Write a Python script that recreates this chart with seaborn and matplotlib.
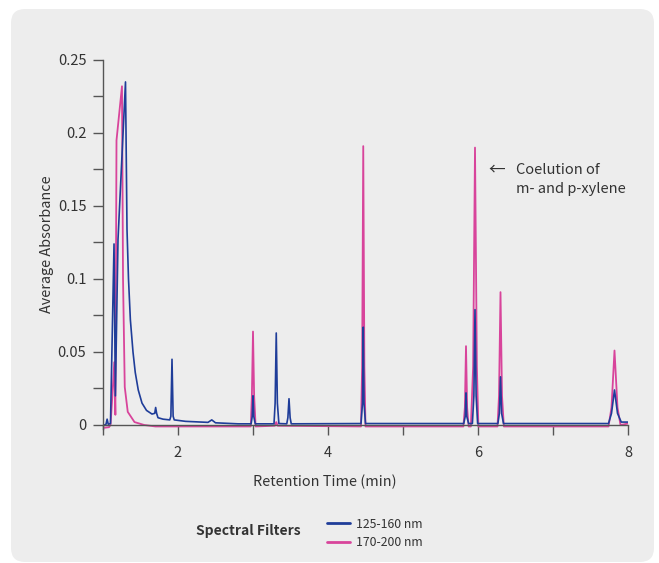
import numpy as np
import pandas as pd
import seaborn as sns
import matplotlib.pyplot as plt
from matplotlib.patches import FancyBboxPatch
from matplotlib.lines import Line2D
from matplotlib.transforms import IdentityTransform
from matplotlib.ticker import MultipleLocator, FuncFormatter

# 125-160 nm trace (retention time in min, average absorbance)
blue_time = [1.00, 1.04, 1.055, 1.07, 1.10, 1.147, 1.165, 1.20, 1.30, 1.32, 1.34,
             1.365, 1.40, 1.43, 1.47, 1.52, 1.58, 1.653, 1.69, 1.702, 1.715, 1.733,
             1.80, 1.89, 1.905, 1.92, 1.935, 1.95, 2.10, 2.40, 2.45, 2.50, 2.80,
             2.975, 2.99, 3.00, 3.01, 3.03, 3.28, 3.295, 3.31, 3.325, 3.345, 3.45,
             3.465, 3.48, 3.495, 3.51, 4.44, 4.46, 4.47, 4.48, 4.50, 5.81, 5.83,
             5.84, 5.85, 5.875, 5.925, 5.945, 5.96, 5.975, 5.995, 6.265, 6.285,
             6.30, 6.315, 6.34, 7.74, 7.78, 7.82, 7.86, 7.91, 8.00]
blue_abs = [-0.0005, 0.0005, 0.004, 0.0005, 0.001, 0.124, 0.02, 0.127, 0.235, 0.134, 0.100,
            0.072, 0.050, 0.036, 0.024, 0.015, 0.010, 0.0075, 0.008, 0.012, 0.008, 0.005,
            0.004, 0.0035, 0.006, 0.045, 0.006, 0.0035, 0.0025, 0.0018, 0.0035, 0.0015, 0.0008,
            0.0008, 0.006, 0.020, 0.006, 0.0008, 0.0008, 0.015, 0.063, 0.015, 0.001, 0.0008,
            0.005, 0.018, 0.005, 0.0008, 0.001, 0.015, 0.067, 0.015, 0.001, 0.001, 0.006,
            0.022, 0.006, 0.001, 0.001, 0.020, 0.079, 0.020, 0.001, 0.001, 0.008,
            0.033, 0.008, 0.001, 0.001, 0.008, 0.024, 0.008, 0.002, 0.002]

# 170-200 nm trace
pink_time = [1.00, 1.08, 1.10, 1.125, 1.15, 1.165, 1.18, 1.253, 1.267, 1.29,
             1.33, 1.42, 1.55, 1.70, 2.00, 2.50, 2.97, 2.985, 3.00, 3.015,
             3.035, 3.29, 3.31, 3.33, 4.44, 4.455, 4.47, 4.485, 4.50, 5.805,
             5.825, 5.84, 5.855, 5.875, 5.905, 5.935, 5.96, 5.985, 6.005, 6.26,
             6.28, 6.30, 6.32, 6.345, 7.74, 7.78, 7.82, 7.86, 7.90, 8.00]
pink_abs = [-0.002, -0.0015, 0.0, 0.02, 0.043, 0.007, 0.195, 0.232, 0.10, 0.026,
            0.009, 0.002, 0.0, -0.001, -0.001, -0.001, -0.001, 0.02, 0.064, 0.02,
            -0.001, -0.0005, 0.002, -0.0005, -0.001, 0.04, 0.191, 0.04, -0.001, -0.001,
            0.012, 0.054, 0.012, -0.001, -0.001, 0.04, 0.190, 0.04, -0.001, -0.001,
            0.02, 0.091, 0.02, -0.001, -0.001, 0.012, 0.051, 0.012, 0.0, 0.001]

series_labels = ['125-160 nm', '170-200 nm']
series_colors = ['#1f3d99', '#d8449b']
y_ticks = [0, 0.05, 0.1, 0.15, 0.2, 0.25]
x_ticks = [2, 4, 6, 8]

sns.set_style('ticks')
plt.rcParams['font.family'] = ['Noto Sans CJK KR', 'DejaVu Sans']
plt.rcParams['text.color'] = '#333333'

blue = pd.DataFrame({'time': blue_time, 'abs': blue_abs})
pink = pd.DataFrame({'time': pink_time, 'abs': pink_abs})

fig = plt.figure(figsize=(6.59, 5.63), dpi=100, facecolor='white')
# rounded grey panel behind everything
panel = FancyBboxPatch((11, 1), 643, 553, boxstyle='round,pad=0,rounding_size=14',
                       transform=IdentityTransform(), facecolor='#ededed',
                       edgecolor='none', zorder=-10)
fig.patches.append(panel)

ax = fig.add_axes([103 / 659, 1 - 428.65 / 563, 525 / 659, 368.65 / 563])
ax.patch.set_alpha(0)

sns.lineplot(data=pink, x='time', y='abs', color=series_colors[1], lw=1.3,
             estimator=None, sort=False, ax=ax)
sns.lineplot(data=blue, x='time', y='abs', color=series_colors[0], lw=1.2,
             estimator=None, sort=False, ax=ax)

ax.set_xlim(1, 8)
ax.set_ylim(-0.0025, 0.25)
ax.spines['top'].set_visible(False)
ax.spines['right'].set_visible(False)
ax.spines['bottom'].set_position(('data', 0))
for s in ['left', 'bottom']:
    ax.spines[s].set_color('#555555')
    ax.spines[s].set_linewidth(1)

ax.set_xticks(x_ticks)
ax.xaxis.set_minor_locator(MultipleLocator(1))
ax.set_yticks(y_ticks)
ax.yaxis.set_minor_locator(MultipleLocator(0.025))
ax.yaxis.set_major_formatter(FuncFormatter(lambda v, p: f'{v:g}'))
ax.tick_params(axis='both', which='both', length=7, width=1, color='#555555',
               labelcolor='#333333', labelsize=10.5)
ax.tick_params(axis='x', pad=8)
ax.tick_params(axis='y', pad=5)

ax.set_xlabel('Retention Time (min)', fontsize=10.4, color='#333333', va='center')
ax.xaxis.set_label_coords(0.423, -0.1447)
ax.set_ylabel('Average Absorbance', fontsize=10.4, color='#333333', va='center')
ax.yaxis.set_label_coords(-0.107, 0.5)

ax.text(6.253, 0.1747, '\u2190', fontsize=12, ha='center', va='center', color='#333333')
ax.text(6.507, 0.1747, 'Coelution of', fontsize=10.5, ha='left', va='center', color='#333333')
ax.text(6.507, 0.1616, 'm- and p-xylene', fontsize=10.5, ha='left', va='center', color='#333333')

# legend at the bottom
fig.text(248.5 / 659, 1 - 531 / 563, 'Spectral Filters', fontsize=10, fontweight='bold',
         ha='center', va='center', color='#333333')
handles = [Line2D([], [], color=c, lw=2) for c in series_colors]
fig.legend(handles, series_labels, loc='center left', bbox_to_anchor=(327 / 659, 1 - 533.5 / 563),
           frameon=False, fontsize=8.8, handlelength=1.9, handletextpad=0.45,
           labelspacing=0.45, borderpad=0, borderaxespad=0)

fig.savefig('out.png', dpi=100)
